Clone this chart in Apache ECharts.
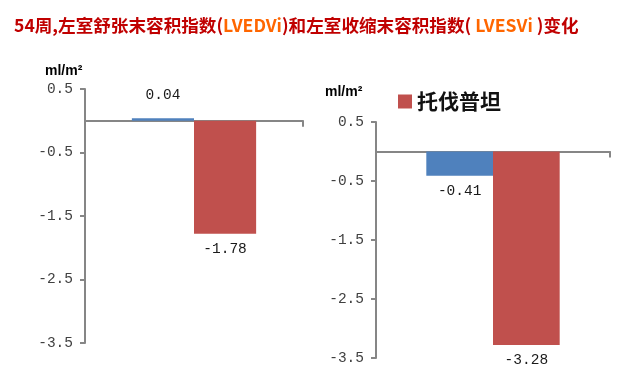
<!DOCTYPE html>
<html>
<head>
<meta charset="utf-8">
<script src="https://cdn.jsdelivr.net/npm/echarts@6/dist/echarts.min.js"></script>
<style>html,body{margin:0;padding:0;background:#fff}#c{width:621px;height:380px}</style>
</head>
<body>
<div id="c"></div>
<script>
var categories = ['54周'];
var seriesNames = ['对照', '托伐普坦'];
var lvedviValues = [[0.04], [-1.78]];   // left panel: [control], [tolvaptan]
var lvesviValues = [[-0.41], [-3.28]];  // right panel
var yTickValues = [-3.5, -2.5, -1.5, -0.5, 0.5];
var colors = ['#4f81bd', '#c0504d'];

var numFont = 'Liberation Mono';
var axisGray = '#868686';

function makeX(gi) {
  return {
    type: 'category', gridIndex: gi, data: categories,
    axisLine: {onZero: true, lineStyle: {color: axisGray, width: 2}},
    axisTick: {show: true, length: 6, interval: 0, lineStyle: {color: axisGray, width: 2}},
    axisLabel: {show: false}, splitLine: {show: false}
  };
}
function makeY(gi) {
  return {
    type: 'value', gridIndex: gi, min: -3.5, max: 0.5, interval: 0.5,
    axisLine: {show: true, lineStyle: {color: axisGray, width: 2}},
    axisTick: {show: true, length: 5, customValues: yTickValues, lineStyle: {color: axisGray, width: 2}},
    axisLabel: {customValues: yTickValues, margin: 12, fontFamily: numFont, fontSize: 14.5, color: '#404040',
      formatter: function (v) { return String(v); }},
    splitLine: {show: false}
  };
}
function makeSeries(gi, vals) {
  return vals.map(function (arr, i) {
    return {
      name: seriesNames[i], type: 'bar', xAxisIndex: gi, yAxisIndex: gi,
      barGap: 0, barCategoryGap: '43%',
      itemStyle: {color: colors[i]},
      data: arr.map(function (v) {
        return {value: v, label: {position: v >= 0 ? 'top' : 'bottom', distance: v >= 0 ? 16 : 8}};
      }),
      label: {show: true, fontFamily: numFont, fontSize: 14.5, color: '#1a1a1a',
        formatter: function (p) { return p.value.toFixed(2); }}
    };
  });
}

var chart = echarts.init(document.getElementById('c'), null, {renderer: 'canvas'});
chart.setOption({
  animation: false,
  backgroundColor: '#fff',
  title: {
    left: 9, top: 12,
    text: '{r|54周,左室舒张末容积指数(}{o|LVEDVi}{r|)和左室收缩末容积指数(}{o| LVESVi }{r|)变化}',
    textStyle: {
      rich: {
        r: {color: '#c00000', fontSize: 17.6, fontWeight: 'bold', fontFamily: 'Noto Sans CJK SC'},
        o: {color: '#ff6600', fontSize: 17.6, fontWeight: 'bold', fontFamily: 'Noto Sans CJK SC'}
      }
    }
  },
  legend: {
    data: ['托伐普坦'], left: 393, top: 86, icon: 'rect', itemWidth: 14, itemHeight: 14, itemGap: 8,
    textStyle: {fontSize: 21, fontWeight: 'bold', color: '#111', fontFamily: 'Noto Sans CJK SC'}
  },
  grid: [
    {left: 85, top: 89, width: 218, height: 254},
    {left: 376, top: 122, width: 234, height: 236}
  ],
  xAxis: [makeX(0), makeX(1)],
  yAxis: [makeY(0), makeY(1)],
  graphic: [
    {type: 'text', left: 45, top: 64, style: {text: 'ml/m²', fontSize: 14, fontWeight: 'bold', fontFamily: 'Liberation Sans', fill: '#000'}},
    {type: 'text', left: 325, top: 85, style: {text: 'ml/m²', fontSize: 14, fontWeight: 'bold', fontFamily: 'Liberation Sans', fill: '#000'}}
  ],
  series: makeSeries(0, lvedviValues).concat(makeSeries(1, lvesviValues))
});
</script>
</body>
</html>
